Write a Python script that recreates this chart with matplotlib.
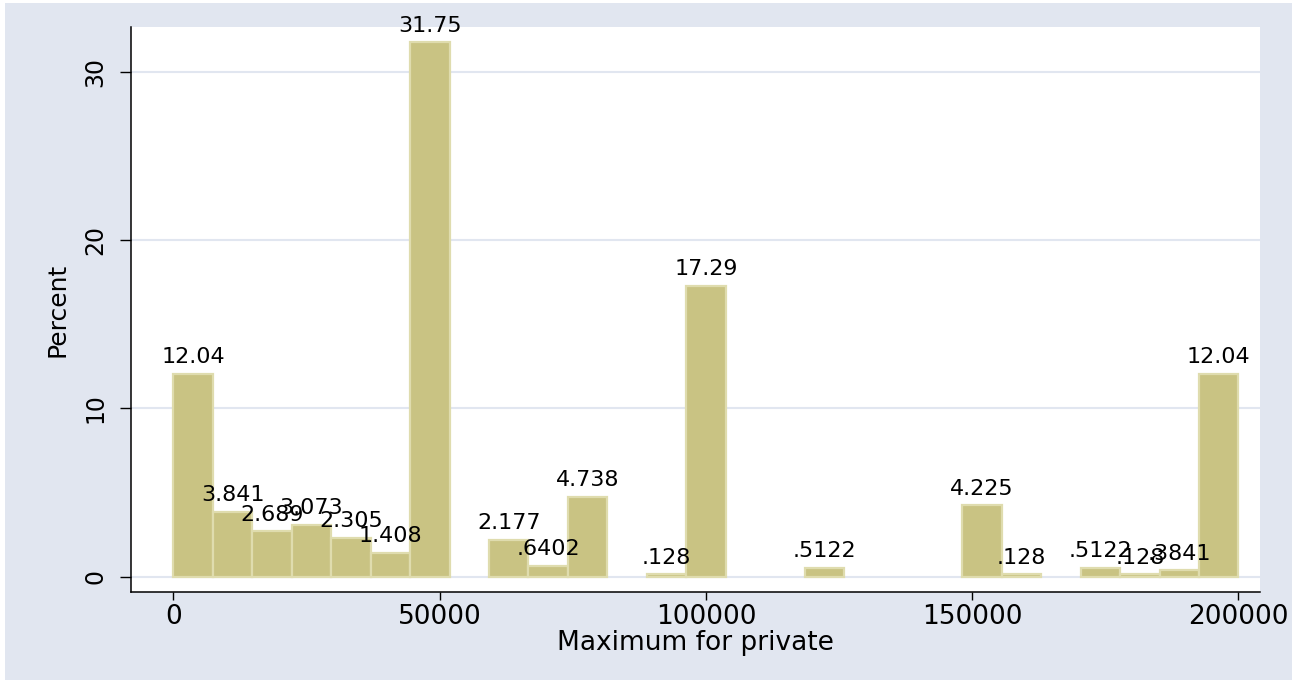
import matplotlib
matplotlib.use("Agg")
import matplotlib.pyplot as plt
from matplotlib.patches import Rectangle

# Histogram of "Maximum for private": 27 bins from 0 to 200000, percent per bin
range_min = 0
range_max = 200000
n_bins = 27
percent = [12.04, 3.841, 2.689, 3.073, 2.305, 1.408, 31.75, 0, 2.177, 0.6402,
           4.738, 0, 0.128, 17.29, 0, 0, 0.5122, 0, 0, 0,
           4.225, 0.128, 0, 0.5122, 0.128, 0.3841, 12.04]
x_ticks = [0, 50000, 100000, 150000, 200000]
y_ticks = [0, 10, 20, 30]
x_title = "Maximum for private"
y_title = "Percent"

BG = "#E1E6F0"
FILL = "#C9C383"
EDGE = "#DFDCAE"
FONT = "DejaVu Sans"

plt.rcParams['font.family'] = [FONT]

fig = plt.figure(figsize=(13.05, 6.81), dpi=100)
fig.patch.set_facecolor("white")
fig.patches.append(Rectangle((5 / 1305, 1 / 681), (1292 - 5) / 1305, (678 - 1) / 681,
                             transform=fig.transFigure, facecolor=BG, edgecolor="none", zorder=-10))

ax = fig.add_axes([131 / 1305, 89 / 681, 1129 / 1305, 565 / 681])
ax.set_facecolor("white")

width = (range_max - range_min) / n_bins
lefts = [range_min + i * width for i in range(n_bins)]
bar_x = [x for x, v in zip(lefts, percent) if v > 0]
bar_v = [v for v in percent if v > 0]

ax.bar(bar_x, bar_v, width=width, align='edge', color=FILL, edgecolor=EDGE,
       linewidth=1.6, zorder=3)

for x, v in zip(bar_x, bar_v):
    lab = f"{v:.4g}"
    if lab.startswith("0."):
        lab = lab[1:]
    ax.annotate(lab, (x + width / 2, v), xytext=(0, 7.5), textcoords="offset points",
                ha="center", va="baseline", fontsize=16, color="black", zorder=5)

ax.set_xlim(-7981, 204038)
ax.set_ylim(-0.92, 32.65)

ax.set_yticks(y_ticks)
ax.set_yticklabels([str(t) for t in y_ticks], rotation=90, va="center", fontsize=17)
ax.set_xticks(x_ticks)
ax.set_xticklabels([str(t) for t in x_ticks], fontsize=19)

ax.grid(axis="y", color=BG, linewidth=1.5, zorder=0)
ax.set_axisbelow(True)

for s in ["top", "right"]:
    ax.spines[s].set_visible(False)
for s in ["left", "bottom"]:
    ax.spines[s].set_color("black")
    ax.spines[s].set_linewidth(1.1)

ax.tick_params(axis="y", length=8, width=1, pad=9, color="black")
ax.tick_params(axis="x", length=6, width=1, pad=3, color="black")

ax.set_xlabel(x_title, fontsize=19)
ax.xaxis.set_label_coords(0.5, -0.068)
ax.set_ylabel(y_title, fontsize=18)
ax.yaxis.label.set_va("center")
ax.yaxis.set_label_coords(-0.0655, 0.5)

fig.savefig("out.png", dpi=100, facecolor=fig.get_facecolor())
